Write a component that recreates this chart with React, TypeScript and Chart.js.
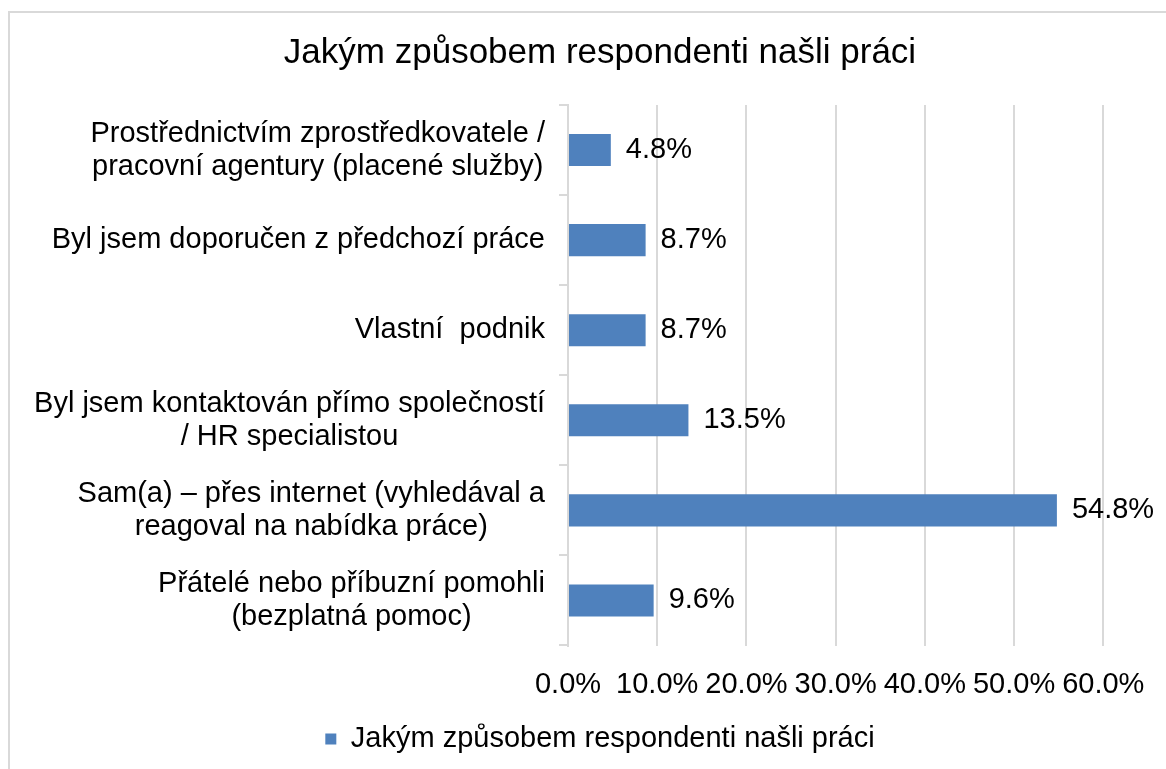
import { useEffect, useRef } from "react";
import { Chart, registerables } from "chart.js";

Chart.register(...registerables);

const chartTitle = "Jakým způsobem respondenti našli práci";
const seriesName = "Jakým způsobem respondenti našli práci";
const categories: string[][] = [
  ["Prostřednictvím zprostředkovatele /", "pracovní agentury (placené služby)"],
  ["Byl jsem doporučen z předchozí práce"],
  ["Vlastní  podnik"],
  ["Byl jsem kontaktován přímo společností", "/ HR specialistou"],
  ["Sam(a) – přes internet (vyhledával a", "reagoval na nabídka práce)"],
  ["Přátelé nebo příbuzní pomohli", "(bezplatná pomoc)"],
];
const values = [4.8, 8.7, 8.7, 13.5, 54.8, 9.6];
const xTicks = [0, 10, 20, 30, 40, 50, 60];

const FONT = "'Liberation Sans', Arial, sans-serif";
const TEXT = "#000000";
const GRID = "#d9d9d9";
const BAR = "#4f81bd";

const labelPlugin = {
  id: "customLabels",
  afterDraw(chart: any) {
    const ctx = chart.ctx;
    const yScale = chart.scales.y;
    ctx.save();
    ctx.font = `29px ${FONT}`;
    ctx.fillStyle = TEXT;
    ctx.textBaseline = "middle";
    ctx.textAlign = "center";
    const lineH = 33;
    const rightEdge = yScale.right - 23;
    categories.forEach((lines, i) => {
      const cy = yScale.getPixelForValue(i);
      const blockW = Math.max(...lines.map((l) => ctx.measureText(l).width));
      const cx = rightEdge - blockW / 2;
      const startY = cy - ((lines.length - 1) * lineH) / 2;
      lines.forEach((l, j) => ctx.fillText(l, cx, startY + j * lineH));
    });
    ctx.textAlign = "left";
    const meta = chart.getDatasetMeta(0);
    meta.data.forEach((bar: any, i: number) => {
      ctx.fillText(values[i].toFixed(1) + "%", bar.x + 15, bar.y);
    });
    ctx.restore();
  },
};

export default function App() {
  const ref = useRef<HTMLCanvasElement | null>(null);
  useEffect(() => {
    if (!ref.current) return;
    Chart.defaults.font.family = FONT;
    const chart = new Chart(ref.current, {
      type: "bar",
      data: {
        labels: categories.map((c) => c.join(" ")),
        datasets: [
          {
            label: seriesName,
            data: values,
            backgroundColor: BAR,
            borderWidth: 0,
            barPercentage: 0.356,
            categoryPercentage: 1,
          },
        ],
      },
      options: {
        indexAxis: "y",
        responsive: false,
        animation: false,
        layout: { padding: { left: 83, right: 59, top: 0, bottom: 5.5 } },
        scales: {
          x: {
            type: "linear",
            min: 0,
            max: 60,
            afterBuildTicks: (scale: any) => {
              scale.ticks = xTicks.map((v) => ({ value: v }));
            },
            ticks: {
              autoSkip: false,
              maxRotation: 0,
              padding: 21.6,
              color: TEXT,
              font: { size: 29 },
              callback: (v: any) => Number(v).toFixed(1) + "%",
            },
            grid: { color: GRID, lineWidth: 2, drawTicks: false },
            border: { display: false },
          },
          y: {
            type: "category",
            afterFit: (scale: any) => {
              scale.width = 475;
            },
            ticks: { display: false },
            grid: {
              drawOnChartArea: false,
              drawTicks: true,
              tickLength: 9,
              color: GRID,
              lineWidth: 2,
              offset: true,
            },
            border: { display: true, color: GRID, width: 2 },
          },
        },
        plugins: {
          title: {
            display: true,
            text: chartTitle,
            color: TEXT,
            font: { size: 35, weight: "normal" },
            padding: { top: 19, bottom: 31 },
          },
          legend: {
            display: true,
            position: "bottom",
            labels: {
              color: TEXT,
              font: { size: 29 },
              boxWidth: 11,
              boxHeight: 11,
              padding: 1,
            },
          },
          tooltip: { enabled: false },
        },
      },
      plugins: [labelPlugin],
    } as any);
    return () => chart.destroy();
  }, []);

  return (
    <div
      style={{
        position: "fixed",
        left: 8,
        top: 11,
        borderTop: `2px solid ${GRID}`,
        borderLeft: `2px solid ${GRID}`,
        background: "#fff",
      }}
    >
      <canvas ref={ref} width={1156} height={756} style={{ display: "block", width: 1156, height: 756 }} />
    </div>
  );
}
